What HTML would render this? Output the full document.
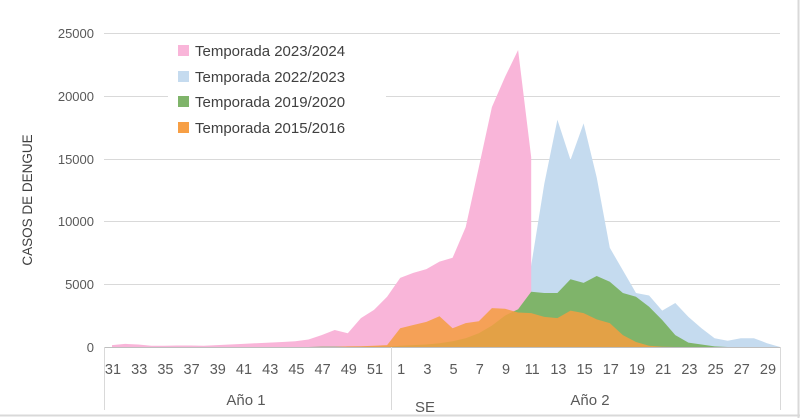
<!DOCTYPE html>
<html><head><meta charset="utf-8"><style>
html,body{margin:0;padding:0;background:#fff;width:800px;height:418px;overflow:hidden}
svg text{font-family:"Liberation Sans Narrow","Liberation Sans",sans-serif;fill:#595959}
</style></head><body>
<svg id="s" width="800" height="418" xmlns="http://www.w3.org/2000/svg">
<rect x="0" y="0" width="800" height="418" fill="#fff"/>
<line x1="0" y1="415.5" x2="800" y2="415.5" stroke="#d9d9d9" stroke-width="2"/>
<line x1="798.5" y1="0" x2="798.5" y2="418" stroke="#d9d9d9" stroke-width="2"/>
<g stroke="#d9d9d9" stroke-width="1">
<line x1="104" y1="33.5" x2="780" y2="33.5"/>
<line x1="104" y1="96.5" x2="780" y2="96.5"/>
<line x1="104" y1="159.5" x2="780" y2="159.5"/>
<line x1="104" y1="221.5" x2="780" y2="221.5"/>
<line x1="104" y1="284.5" x2="780" y2="284.5"/>
</g>
<g id="series"></g>
<rect x="168" y="40" width="218" height="100" fill="#fff"/>
<line x1="104" y1="347.5" x2="780" y2="347.5" stroke="#bfbfbf"/>
<g stroke="#d9d9d9">
<line x1="104.5" y1="347" x2="104.5" y2="410"/>
<line x1="391.5" y1="347" x2="391.5" y2="410"/>
<line x1="780.5" y1="347" x2="780.5" y2="410"/>
</g>
<g font-size="13" text-anchor="end">
<text x="94" y="38">25000</text><text x="94" y="101">20000</text><text x="94" y="164">15000</text>
<text x="94" y="226">10000</text><text x="94" y="289">5000</text><text x="94" y="352">0</text>
</g>
<text transform="translate(32,200) rotate(-90)" font-size="13.5" text-anchor="middle" style="fill:#404040">CASOS DE DENGUE</text>
<g id="xl" font-size="14.5" text-anchor="middle"></g>
<text x="246" y="405" font-size="15" text-anchor="middle">Año 1</text>
<text x="425" y="412" font-size="15" text-anchor="middle">SE</text>
<text x="590" y="405" font-size="15" text-anchor="middle">Año 2</text>
<g font-size="15" style="font-family:'Liberation Sans',sans-serif">
<rect x="178" y="45" width="11" height="11" fill="#f9b5d9"/><text x="195" y="56" style="fill:#404040">Temporada 2023/2024</text>
<rect x="178" y="71" width="11" height="11" fill="#c5dbef"/><text x="195" y="82" style="fill:#404040">Temporada 2022/2023</text>
<rect x="178" y="96" width="11" height="11" fill="#7fb46a"/><text x="195" y="107" style="fill:#404040">Temporada 2019/2020</text>
<rect x="178" y="122" width="11" height="11" fill="#f79f45"/><text x="195" y="133" style="fill:#404040">Temporada 2015/2016</text>
</g>
</svg>
<script>
function X(i){return 112+13.1*i}
function Y(v){return 347-v*0.01256}
var pink=[150,250,200,100,100,120,120,100,150,200,250,300,350,400,450,600,950,1350,1100,2300,2950,4000,
5500,5900,6200,6800,7100,9550,14300,19100,21500,23650,15100];
var blue=[];for(var i=0;i<52;i++)blue.push(0);
var bv={8:500,9:1000,10:2500,11:6500,12:13000,13:18100,14:14900,15:17800,16:13500,17:7900,18:6100,19:4300,20:4100,21:2900,22:3500,23:2400,24:1500,25:700,26:500,27:700,28:700,29:300,30:0};
for(var k in bv)blue[21+ +k]=bv[k];
var green=[];for(var i=0;i<52;i++)green.push(i>15&&i<22?30:0);
var gv={1:100,2:150,3:200,4:300,5:450,6:700,7:1100,8:1700,9:2500,10:3000,11:4400,12:4300,13:4300,14:5400,15:5100,16:5650,17:5200,18:4300,19:4000,20:3200,21:2150,22:950,23:350,24:200,25:50};
for(var k in gv)green[21+ +k]=gv[k];
var orange=[];for(var i=0;i<52;i++)orange.push(0);
orange[18]=50;orange[19]=60;orange[20]=100;orange[21]=150;
var ov={1:1500,2:1750,3:2000,4:2450,5:1500,6:1900,7:2050,8:3100,9:3050,10:2750,11:2700,12:2400,13:2300,14:2900,15:2700,16:2200,17:1900,18:950,19:400,20:100,21:20};
for(var k in ov)orange[21+ +k]=ov[k];
function path(a){var n=a.length;var p="M"+X(0)+","+Y(0);for(var i=0;i<n;i++)p+=" L"+X(i).toFixed(1)+","+Y(a[i]).toFixed(1);p+=" L"+X(n-1).toFixed(1)+","+Y(0)+" Z";return p}
var g=document.getElementById("series");
function add(a,c,op){var e=document.createElementNS("http://www.w3.org/2000/svg","path");e.setAttribute("d",path(a));e.setAttribute("fill",c);if(op)e.setAttribute("fill-opacity",op);g.appendChild(e)}
add(blue,"#c5dbef");add(pink,"#f9b5d9");add(green,"#7fb46a");add(orange,"#f59d3f",0.85);
var xl=document.getElementById("xl");
for(var i=0;i<52;i+=2){var w=i<22?31+i:i-21;var t=document.createElementNS("http://www.w3.org/2000/svg","text");t.setAttribute("x",X(i)+1);t.setAttribute("y",374);t.textContent=w;xl.appendChild(t)}
</script>
</body></html>
